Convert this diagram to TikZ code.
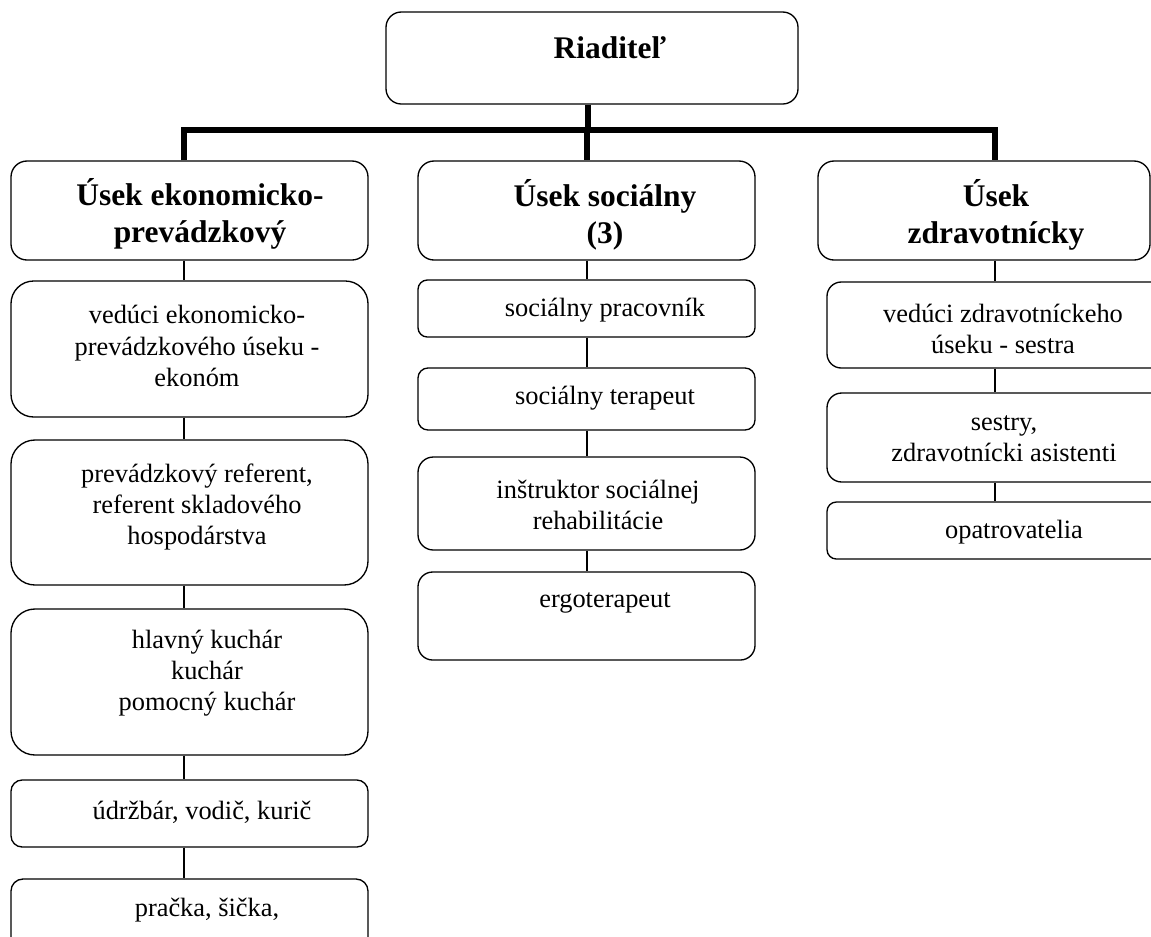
\documentclass[tikz,border=0pt]{standalone}
\usepackage{fontspec}
\setmainfont{Liberation Serif}
\usetikzlibrary{fit}
\def\job{\fontsize{19.8}{23.5}\selectfont}
\def\head{\fontsize{23.6}{28}\selectfont\bfseries}

\begin{document}
\begin{tikzpicture}[x=0.75pt, y=-0.75pt,
    orgbox/.style={draw, line width=1pt, inner sep=0pt},
    trunk/.style={line width=3.8pt},
    link/.style={line width=0.8pt},
    txt/.style={align=center, inner sep=0pt}]
        \useasboundingbox (0,0) rectangle (1151,936);
        \clip (0,0) rectangle (1151,936);
        % boxes
        \node[orgbox, rounded corners=11.5pt, fit={(386,12) (798,104)}] (boss) {};
        \foreach \n/\l/\r in {econ/11/368, soc/418/755, health/818/1150}{
          \node[orgbox, rounded corners=12pt, fit={(\l,161) (\r,260)}] (\n) {};
        }
        \foreach \n/\a/\b/\c in {e1/281/417/17, e2/440/585/18, e3/609/755/18, e4/780/847/8.4, e5/879/985/9}{
          \node[orgbox, rounded corners=\c pt, fit={(11,\a) (368,\b)}] (\n) {};
        }
        \foreach \n/\a/\b/\c in {s1/280/337/7, s2/368/430/7.5, s3/457/550/11.5, s4/572/660/11}{
          \node[orgbox, rounded corners=\c pt, fit={(418,\a) (755,\b)}] (\n) {};
        }
        \foreach \n/\a/\b/\c in {h1/282/368/10.7, h2/393/482/11, h3/502/559/7}{
          \node[orgbox, rounded corners=\c pt, fit={(827,\a) (1180,\b)}] (\n) {};
        }
        % texts
        \node[txt, font=\head] (boss-t) at (610,48) {Riaditeľ};
        \node[txt, font=\head] (econ-t) at (200,214) {Úsek ekonomicko-\\prevádzkový};
        \node[txt, font=\head] (soc-t) at (605,215) {Úsek sociálny\\(3)};
        \node[txt, font=\head] (health-t) at (996,215) {Úsek\\zdravotnícky};
        \node[txt, font=\job] (e1-t) at (197,346) {vedúci ekonomicko-\\prevádzkového úseku -\\ekonóm};
        \node[txt, font=\job] (e2-t) at (197,507) {prevádzkový referent,\\referent skladového\\hospodárstva};
        \node[txt, font=\job] (e3-t) at (207,673) {hlavný kuchár\\kuchár\\pomocný kuchár};
        \node[txt, font=\job] (e4-t) at (202,812) {údržbár, vodič, kurič};
        \node[txt, font=\job] (e5-t) at (207,910) {pračka, šička,};
        \node[txt, font=\job] (s1-t) at (605,310) {sociálny pracovník};
        \node[txt, font=\job] (s2-t) at (605,398) {sociálny terapeut};
        \node[txt, font=\job] (s3-t) at (598,505) {inštruktor sociálnej\\rehabilitácie};
        \node[txt, font=\job] (s4-t) at (605,603) {ergoterapeut};
        \node[txt, font=\job] (h1-t) at (1003,329) {vedúci zdravotníckeho\\úseku - sestra};
        \node[txt, font=\job] (h2-t) at (1004,439) {sestry,\\zdravotnícki asistenti};
        \node[txt, font=\job] (h3-t) at (1014,532) {opatrovatelia};
        % connectors
        \coordinate (jB) at (588,130);
        \coordinate (jE) at (184,130);
        \coordinate (jS) at (587,130);
        \coordinate (jH) at (995,130);
        \draw[trunk] (boss.south -| jB) -- (jB);
        \draw[trunk] (jE |- econ.north) -- (jE) -- (jH) -- (jH |- health.north);
        \draw[trunk] (jS) -- (jS |- soc.north);
        \foreach \u/\v in {econ/e1, e1/e2, e2/e3, e3/e4, e4/e5}{
          \draw[link] (\u.south -| jE) -- (\v.north -| jE);
        }
        \foreach \u/\v in {soc/s1, s1/s2, s2/s3, s3/s4}{
          \draw[link] (\u.south -| jS) -- (\v.north -| jS);
        }
        \foreach \u/\v in {health/h1, h1/h2, h2/h3}{
          \draw[link] (\u.south -| jH) -- (\v.north -| jH);
        }
      \end{tikzpicture}
\end{document}
